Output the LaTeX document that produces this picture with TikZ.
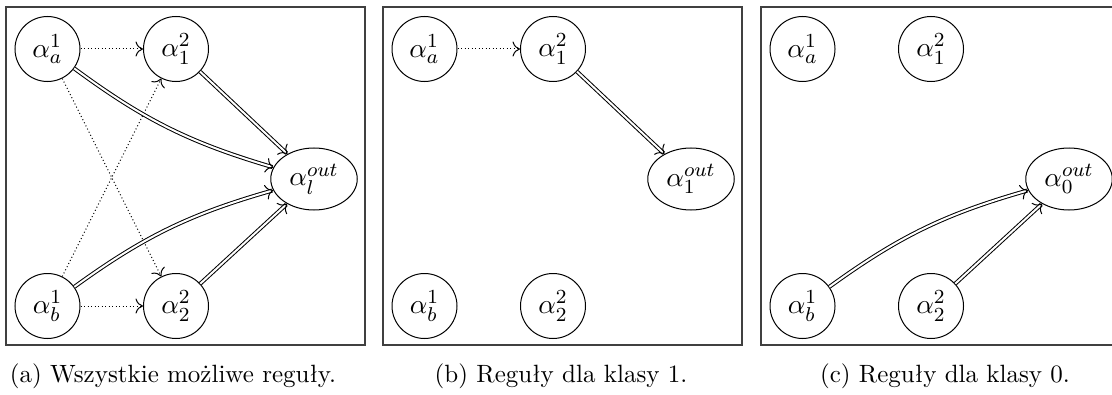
\documentclass[tikz,border=0pt]{standalone}
\usepackage{amsmath,amssymb}
\usepackage{xcolor}
\usetikzlibrary{shapes.geometric,arrows.meta}

\begin{document}
\begin{tikzpicture}[x=0.4pt,y=0.4pt,
  var/.style={draw,circle,minimum size=26pt,inner sep=0pt,font={\fontsize{11}{13}\selectfont}},
  outvar/.style={draw,ellipse,minimum width=34.6pt,minimum height=24.8pt,inner sep=0pt,font={\fontsize{11}{13}\selectfont}},
  tip/.style={-{To[line width=0.4pt,length=3pt,width=6pt]}},
  rule/.style={tip,densely dotted},
  infer/.style={tip,double,double distance=0.8pt},
  frame/.style={draw=black!75,line width=0.5pt}]
\useasboundingbox (0,0) rectangle (1112,394);
\foreach \p/\dx/\cls in {a/0/l,b/377/1,c/755/0}{
  \draw[frame] ({\dx+6},387) rectangle ({\dx+365},49);
  \node[var] (\p-a1) at ({\dx+47.5},345) {$\alpha^1_a$};
  \node[var] (\p-a2) at ({\dx+176},345) {$\alpha^2_1$};
  \node[var] (\p-b1) at ({\dx+47.5},88) {$\alpha^1_b$};
  \node[var] (\p-b2) at ({\dx+176},88) {$\alpha^2_2$};
  \node[outvar] (\p-out) at ({\dx+314},215) {$\alpha^{out}_{\cls}$};
}
% (a) wszystkie reguly
\draw[rule] (a-a1) -- (a-a2);
\draw[rule] (a-b1) -- (a-b2);
\draw[rule] (a-a1) -- (a-b2);
\draw[rule] (a-b1) -- (a-a2);
\draw[infer] (a-a1) to[bend right=10] (a-out);
\draw[infer] (a-b1) to[bend left=10] (a-out);
\draw[infer] (a-a2) -- (a-out);
\draw[infer] (a-b2) -- (a-out);
% (b) klasa 1
\draw[rule] (b-a1) -- (b-a2);
\draw[infer] (b-a2) -- (b-out);
% (c) klasa 0
\draw[infer] (c-b1) to[bend left=10] (c-out);
\draw[infer] (c-b2) -- (c-out);
% podpisy
\node[anchor=base] (cap-a) at (173,12) {(a) Wszystkie możliwe reguły.};
\node[anchor=base] (cap-b) at (561,12) {(b) Reguły dla klasy $1$.};
\node[anchor=base] (cap-c) at (945,12) {(c) Reguły dla klasy $0$.};
\end{tikzpicture}
\end{document}
